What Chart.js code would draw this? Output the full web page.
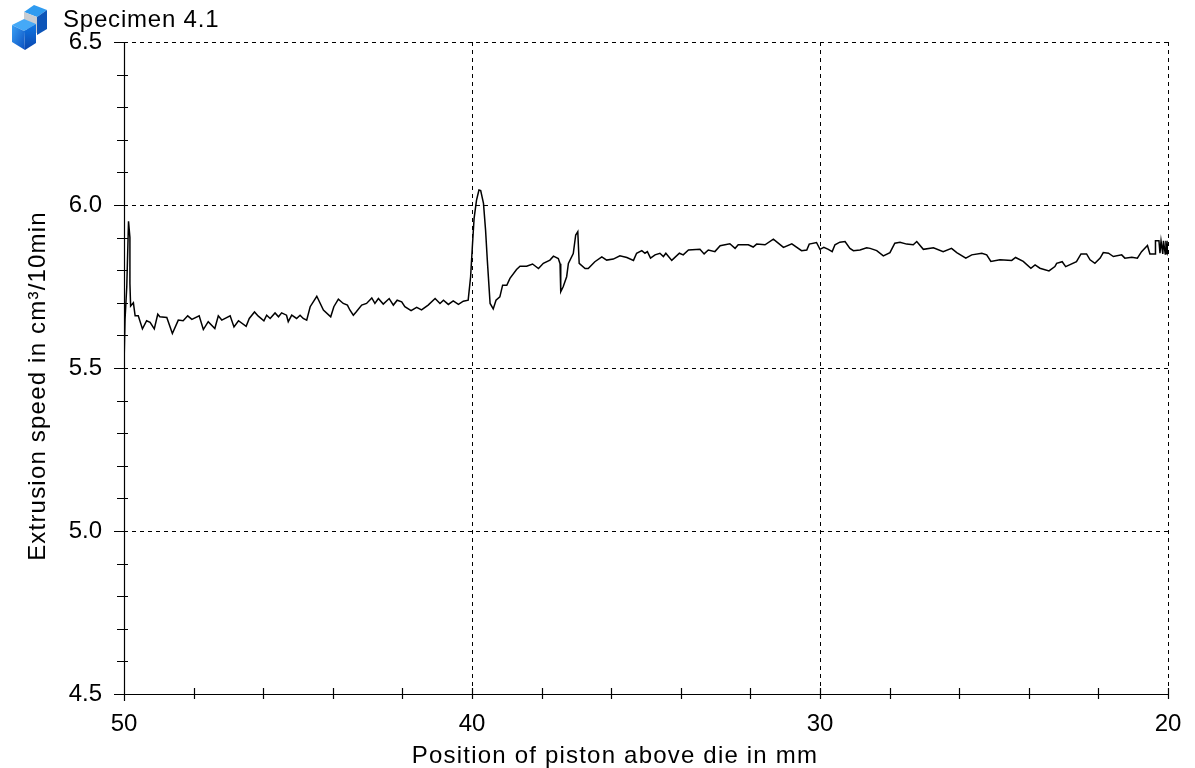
<!DOCTYPE html>
<html><head><meta charset="utf-8">
<style>
html,body{margin:0;padding:0;background:#fff;width:1195px;height:768px;overflow:hidden}
#c{position:absolute;left:0;top:0}
#t{position:absolute;left:63px;top:7px;font:24px/24px "Liberation Sans",Arial,sans-serif;color:#000;letter-spacing:.8px;white-space:nowrap}
#i{position:absolute;left:10px;top:3px}
</style></head><body>
<canvas id="c" width="1195" height="768"></canvas>
<svg id="i" width="40" height="48" viewBox="0 0 40 48">
<defs>
<linearGradient id="g1" x1="0" y1="0" x2="1" y2="1"><stop offset="0" stop-color="#3aa0f5"/><stop offset="1" stop-color="#0a4fc0"/></linearGradient>
<linearGradient id="g2" x1="0" y1="0" x2="0" y2="1"><stop offset="0" stop-color="#0f78e6"/><stop offset="1" stop-color="#0a45ad"/></linearGradient>
</defs>
<polygon points="14,9 24,2 37,7 27,14" fill="#2f9bf0"/>
<polygon points="27,14 37,7 37,26 27,32" fill="#0d55b8"/>
<polygon points="14,9 27,14 27,30 14,25" fill="#c9cdd2"/>
<polygon points="2,22 14,16 26,21 14,28" fill="#45a9f7"/>
<polygon points="2,22 14,28 15,47 2,39" fill="url(#g1)"/>
<polygon points="14,28 26,21 26,40 15,47" fill="url(#g2)"/>
</svg>
<div id="t">Specimen 4.1</div>
<script src="https://cdn.jsdelivr.net/npm/chart.js@4/dist/chart.umd.min.js"></script>
<script>
const xAxisTitle = "Position of piston above die in mm";
const yAxisTitle = "Extrusion speed in cm³/10min";
const positions = [
50.0,50.0,49.97,49.92,49.87,49.83,49.83,49.81,49.73,49.68,49.59,49.47,49.35,49.25,49.13,49.03,48.97,48.77,48.61,48.44,48.30,48.17,48.05,47.84,47.72,47.58,47.39,47.29,47.19,46.95,46.84,46.71,46.49,46.40,46.25,46.14,45.98,45.90,45.80,45.66,45.56,45.47,45.33,45.28,45.18,45.04,44.94,44.85,44.75,44.65,44.46,44.27,44.06,43.97,43.84,43.70,43.58,
43.51,43.41,43.33,43.17,43.03,42.88,42.79,42.69,42.55,42.38,42.26,42.15,42.02,41.93,41.75,41.59,41.45,41.26,41.06,40.92,40.82,40.68,40.54,40.39,40.25,40.11,40.04,39.99,39.94,39.87,39.80,39.75,39.67,39.61,39.56,39.48,39.39,39.31,39.20,39.12,39.00,38.91,38.72,38.62,38.43,38.26,38.09,37.95,37.76,37.66,37.52,37.47,37.45,37.38,37.28,37.23,37.09,37.02,36.96,36.92,36.75,36.66,36.47,36.27,36.13,35.94,
35.75,35.55,35.36,35.27,35.12,35.03,34.96,34.87,34.74,34.60,34.50,34.43,34.26,34.04,33.93,33.78,33.45,33.33,33.21,33.02,32.87,32.59,32.44,32.35,32.06,31.92,31.82,31.58,31.34,31.20,31.05,30.81,30.53,30.38,30.31,30.10,30.00,29.89,29.76,29.65,29.57,29.43,29.28,29.14,29.04,28.85,28.66,28.56,28.37,28.18,27.99,27.85,
27.70,27.51,27.32,27.22,27.03,26.74,26.46,26.22,26.07,25.81,25.64,25.35,25.21,25.09,24.83,24.49,24.38,24.16,23.94,23.82,23.68,23.42,23.25,23.20,23.04,22.94,22.63,22.50,22.34,22.24,22.10,21.95,21.86,21.71,21.57,21.33,21.24,21.04,20.88,20.76,20.59,20.52,20.37,20.36,20.26,20.23,20.20,20.15,20.13,20.08,20.06,20.02,20.00,20.00];
const speeds = [
5.40,5.51,5.65,5.75,5.95,5.90,5.76,5.69,5.70,5.66,5.66,5.62,5.645,5.64,5.62,5.665,5.657,5.655,5.606,5.647,5.645,5.66,5.649,5.66,5.618,5.642,5.621,5.66,5.647,5.66,5.626,5.645,5.628,5.652,5.672,5.659,5.645,5.662,5.652,5.669,5.657,5.669,5.662,5.642,5.662,5.652,5.662,5.652,5.647,5.688,5.72,5.678,5.657,5.688,5.711,5.698,5.693,
5.678,5.662,5.672,5.693,5.698,5.715,5.698,5.713,5.696,5.713,5.693,5.708,5.703,5.688,5.676,5.686,5.678,5.693,5.713,5.698,5.708,5.695,5.706,5.695,5.705,5.708,5.78,5.872,5.959,6.015,6.046,6.044,6.005,5.923,5.831,5.698,5.681,5.708,5.718,5.754,5.754,5.775,5.802,5.812,5.812,5.819,5.805,5.821,5.831,5.843,5.836,5.82,5.734,5.749,5.78,5.821,5.851,5.908,5.918,5.821,5.805,5.805,5.826,5.841,5.831,5.834,
5.844,5.839,5.830,5.852,5.860,5.852,5.857,5.837,5.847,5.852,5.842,5.852,5.830,5.852,5.847,5.862,5.864,5.85,5.862,5.857,5.875,5.881,5.867,5.878,5.878,5.871,5.88,5.878,5.895,5.883,5.87,5.881,5.86,5.862,5.88,5.885,5.864,5.87,5.864,5.857,5.878,5.886,5.888,5.867,5.86,5.862,5.869,5.867,5.86,5.844,5.854,5.883,
5.886,5.88,5.878,5.888,5.864,5.869,5.857,5.867,5.854,5.837,5.847,5.852,5.847,5.827,5.832,5.83,5.839,5.827,5.806,5.816,5.806,5.798,5.811,5.821,5.826,5.811,5.826,5.85,5.85,5.832,5.821,5.837,5.854,5.852,5.842,5.847,5.837,5.84,5.837,5.857,5.876,5.85,5.85,5.89,5.89,5.852,5.89,5.85,5.89,5.85,5.89,5.85,5.89,5.845];
const xTickLabels = [50,40,30,20];
const yTickLabels = [6.5,6.0,5.5,5.0,4.5];

const FONT = '"Liberation Sans", Arial, sans-serif';
const near = (v, list) => list.some(m => Math.abs(m - v) < 1e-6);

// Axis titles sit off-centre in the reference: shift only where the library draws them.
const shiftTitle = (s, dx, dy) => {
  if (s._titleShifted) return;
  s._titleShifted = true;
  const draw = s.drawTitle;
  s.drawTitle = function () {
    const ctx = this.ctx;
    ctx.save();
    ctx.translate(dx, dy);
    ctx.letterSpacing = '1.2px';
    draw.call(this);
    ctx.restore();
  };
};

const crossTicks = {
  id: 'crossTicks',
  afterDatasetsDraw(chart) {
    const {ctx, scales: {x, y}, chartArea: a} = chart;
    ctx.save();
    ctx.strokeStyle = '#000';
    ctx.lineWidth = 1.2;
    ctx.beginPath();
    x.ticks.forEach(t => {
      const p = Math.round(x.getPixelForValue(t.value)) + .5;
      ctx.moveTo(p, a.bottom - 6); ctx.lineTo(p, a.bottom + 5);
    });
    y.ticks.forEach(t => {
      const p = Math.round(y.getPixelForValue(t.value)) + .5;
      ctx.moveTo(a.left - (near(t.value, yTickLabels) ? 10 : 7), p); ctx.lineTo(a.left + 4, p);
    });
    ctx.moveTo(a.left + .5, a.top); ctx.lineTo(a.left + .5, a.bottom + 7);
    ctx.moveTo(a.left - 10, a.bottom + .5); ctx.lineTo(a.right, a.bottom + .5);
    ctx.stroke();
    ctx.restore();
  }
};

new Chart(document.getElementById('c'), {
  type: 'line',
  data: { datasets: [{
    data: positions.map((p, i) => ({x: p, y: speeds[i]})),
    borderColor: '#000', borderWidth: 1.5, pointRadius: 0, tension: 0, fill: false
  }]},
  options: {
    responsive: false, animation: false,
    layout: { padding: {left: 0, right: 27, top: 42, bottom: 0} },
    plugins: { legend: {display: false}, tooltip: {enabled: false} },
    scales: {
      x: {
        type: 'linear', reverse: true, min: 20, max: 50,
        afterFit: s => { s.height = 74; s.paddingRight = 0; s.paddingLeft = 0; shiftTitle(s, -31, 3); },
        afterBuildTicks: s => { s.ticks = []; for (let v = 50; v >= 20; v -= 2) s.ticks.push({value: v}); },
        border: {display: false, dash: [4, 4]},
        grid: {
          drawTicks: false,
          color: c => (c.tick && near(c.tick.value, xTickLabels) && c.tick.value !== 50) ? '#000' : 'transparent',
          lineWidth: 1
        },
        ticks: {
          autoSkip: false, maxRotation: 0, color: '#000', padding: 16,
          font: {family: FONT, size: 24},
          callback: v => near(v, xTickLabels) ? String(v) : ''
        },
        title: { display: true, text: xAxisTitle, color: '#000', font: {family: FONT, size: 24}, padding: {top: 4, bottom: 0} }
      },
      y: {
        type: 'linear', min: 4.5, max: 6.5,
        afterFit: s => { s.width = 124; shiftTitle(s, 0, 18); },
        afterBuildTicks: s => { s.ticks = []; for (let i = 0; i <= 20; i++) s.ticks.push({value: +(4.5 + i * 0.1).toFixed(1)}); },
        border: {display: false, dash: [4, 4]},
        grid: {
          drawTicks: false,
          color: c => (c.tick && near(c.tick.value, yTickLabels) && c.tick.value !== 4.5) ? '#000' : 'transparent',
          lineWidth: 1
        },
        ticks: {
          autoSkip: false, color: '#000', padding: 22,
          font: {family: FONT, size: 24},
          callback: v => near(v, yTickLabels) ? v.toFixed(1) : ''
        },
        title: { display: true, text: yAxisTitle, color: '#000', font: {family: FONT, size: 24}, padding: {top: 24, bottom: 0} }
      }
    }
  },
  plugins: [crossTicks]
});
</script>
</body></html>
